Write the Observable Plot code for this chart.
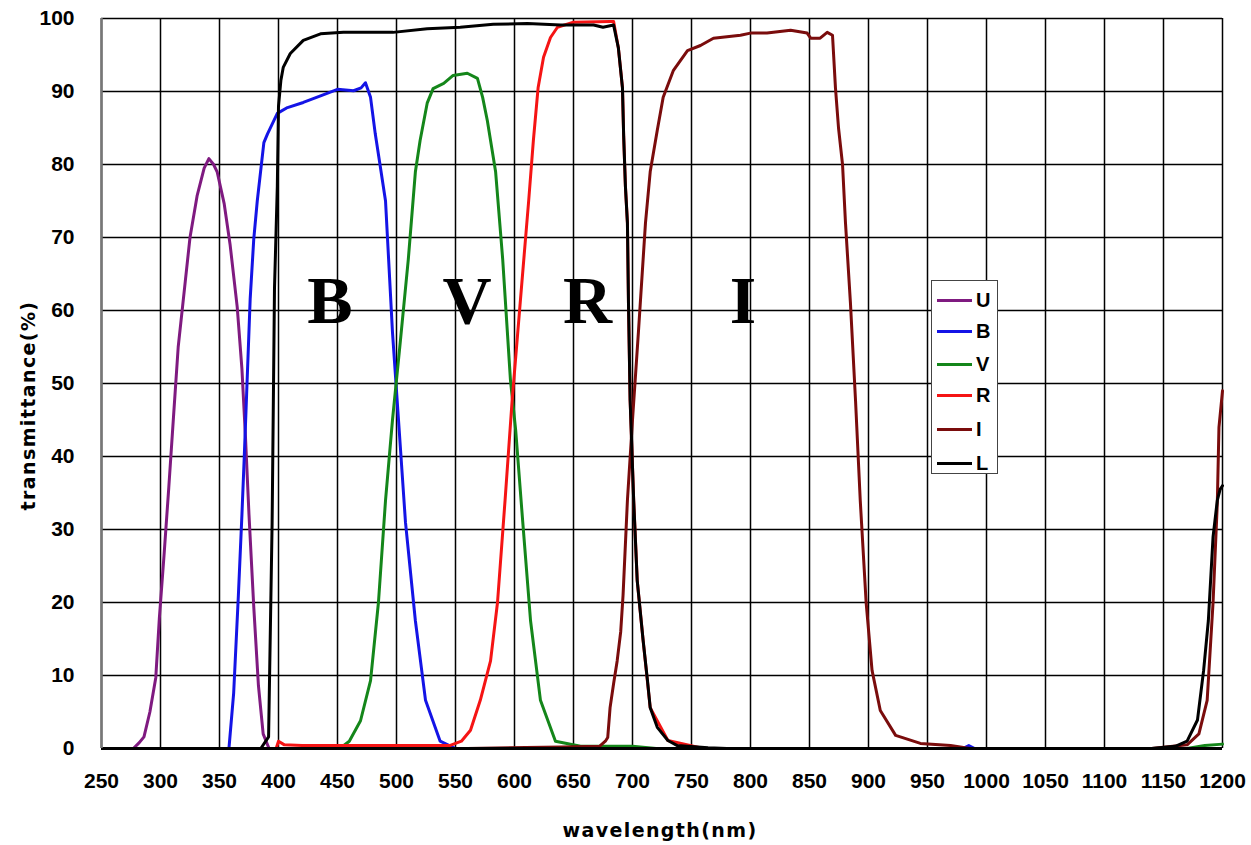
<!DOCTYPE html>
<html><head><meta charset="utf-8">
<script src="https://cdn.jsdelivr.net/npm/d3@7"></script>
<script src="https://cdn.jsdelivr.net/npm/@observablehq/plot@0.6"></script>
<style>
body{margin:0;background:#fff;}
#wrap{position:relative;width:1251px;height:845px;background:#fff;}
#legend{position:absolute;left:931px;top:280px;width:67px;height:194px;border:1.5px solid #444;background:#fff;box-sizing:border-box;}
.item{position:absolute;left:0;width:100%;height:0;}
.swatch{position:absolute;left:5px;width:35px;height:3px;top:-1.5px;}
.lab{position:absolute;left:44px;top:-12px;font:bold 20px "Liberation Sans",Arial,sans-serif;line-height:24px;color:#000;}
</style></head><body><div id="wrap"></div>
<script>
// tick labels
const xTicks = [250,300,350,400,450,500,550,600,650,700,750,800,850,900,950,1000,1050,1100,1150,1200];
const yTicks = [0,10,20,30,40,50,60,70,80,90,100];

// series names and colours
const seriesNames = ["U","B","V","R","I","L"];
const seriesColors = ["#7f1a80","#1414e6","#14861a","#f51414","#7a0c0c","#000000"];

// [wavelength nm, transmittance %]
const U = [[260,0],[277,0],[282,0.8],[286,1.6],[291,5],[296,9.7],[299,17.8],[303,26.5],[307,35.7],[311,45.4],[315,55],[321,64],[325,70],[331,75.7],[337,79.5],[341,80.8],[345,80],[348,79],[354,74.6],[359,69],[365,60.5],[369,52],[372,42.7],[375,32],[379,19.5],[383,8.6],[387,2],[392,0],[400,0]];
const B = [[330,0],[358,0],[362,7.6],[366,21],[369,32],[371,40],[373,48.6],[376,61.6],[379,69.7],[382,75],[387.6,83],[390.7,84.2],[399,87],[407.6,87.8],[421,88.5],[435.6,89.4],[450,90.3],[463.6,90.1],[470,90.5],[473.7,91.2],[478,89.2],[482,84.2],[486,80],[490.7,75],[496.6,57],[501.7,45],[507.6,31],[516,17.5],[524.6,6.6],[537,1],[550,0],[980,0],[985,0.4],[990,0]];
const V = [[390,0],[452,0],[460,1],[469.5,3.8],[478,9.3],[484.7,20],[490.7,34],[496.6,45],[503.4,56],[510,67],[516,79],[520,83.3],[526,88.4],[531,90.4],[540,91.1],[548,92.2],[560,92.5],[568.6,91.8],[573,89.2],[577,86],[584,79],[590,67],[596.6,50.4],[601,43.6],[607,31],[613.6,17.5],[622,6.6],[634.7,1],[656,0.3],[700,0.3],[720,0],[1170,0],[1185,0.4],[1200,0.6]];
const R = [[398,0],[400,1],[405,0.5],[420,0.4],[545,0.4],[555,1],[562.7,2.5],[571,6.6],[579.7,12],[585.6,20],[592,34],[598,47.7],[605,61.4],[612,75],[616,83.3],[620,90.5],[624.6,94.7],[630.5,97.4],[636.4,98.8],[650,99.5],[681,99.6],[684,99.6],[688,96],[691.5,90.5],[692.5,84],[694,77],[695.7,72],[696.6,61],[698,47.7],[701,34],[704,23],[709,14.8],[715,5.6],[730,1.1],[760,0]];
const I = [[560,0],[640,0.2],[672,0.3],[677,1],[679,1.5],[681,5.6],[684,8.9],[687,12],[690,16],[692,21],[695.7,34],[700,45],[705,57],[709,67],[711,72],[715,79],[721,84.7],[726,89.2],[734.7,92.9],[746.6,95.6],[757.6,96.3],[768.6,97.3],[791.5,97.7],[800,98],[814,98],[834,98.4],[848,98],[851,97.3],[859,97.3],[865,98.1],[869.5,97.7],[872,90.5],[874.6,85],[878,80],[880.5,72],[884.7,61],[889,47.7],[893,34],[898,20],[903,10.7],[910,5.2],[923,1.8],[944,0.7],[969.5,0.4],[986,0],[1140,0],[1170,0.5],[1180,2],[1187,6.6],[1192,20],[1195.6,33.6],[1197,44],[1200,49]];
const L = [[260,0],[385,0],[391.6,1.6],[394.6,31],[396.6,63],[399,77],[400,88],[402,91.5],[404,93.3],[410,95.2],[421,97],[435.6,97.9],[455,98.1],[497,98.1],[526,98.6],[554,98.8],[582,99.2],[611,99.3],[639,99.1],[667,99.1],[675,98.8],[684,99.1],[688,96],[691.5,90.5],[692.5,84],[694,77],[695.7,72],[696.6,61],[698,47.7],[701,34],[704,23],[709,14.8],[712.7,9.3],[715,5.6],[721,2.9],[730,1.1],[738,0.4],[764,0.1],[780,0],[1140,0],[1160,0.3],[1170,1],[1178.8,3.9],[1184,10.7],[1188,17.5],[1192,29],[1195.6,34],[1198,35.5],[1200,36]];
const seriesData = [U,B,V,R,I,L];

// band annotations
const bandNames = ["B","V","R","I"];
const bandNm = [443.6,559.7,661.9,793.6];
const bandT = [61.3,61.3,61.3,61.3];

const xTitle = "wavelength(nm)";
const yTitle = "transmittance(%)";

const lines = seriesData.map((s,i) => Plot.line(s, {x: d => d[0], y: d => d[1], stroke: seriesColors[i], strokeWidth: 3}));

const titleStyle = {fontFamily: "'DejaVu Sans', sans-serif", fontWeight: "bold", fontSize: 19, fill: "#000", textAnchor: "middle", lineAnchor: "middle"};

const plot = Plot.plot({
  width: 1251, height: 845,
  marginLeft: 101, marginRight: 29, marginTop: 18, marginBottom: 97,
  style: {background: "#fff", fontFamily: "'Liberation Sans', Arial, sans-serif", fontSize: "21px", fontWeight: "bold", color: "#000", overflow: "visible"},
  x: {domain: [250,1200], ticks: xTicks, tickSize: 0, tickPadding: 25, label: null, tickFormat: d => String(d)},
  y: {domain: [0,100], ticks: yTicks, tickSize: 0, tickPadding: 27, label: null, tickFormat: d => String(d)},
  marks: [
    Plot.ruleX(xTicks, {stroke: "#000", strokeWidth: 1.5}),
    Plot.ruleY(yTicks, {stroke: "#000", strokeWidth: 1.5}),
    ...lines,
    Plot.ruleY([0], {stroke: "#000", strokeWidth: 3}),
    Plot.ruleX([250], {stroke: "#777", strokeWidth: 2.5}),
    Plot.text(bandNames, {x: bandNm, y: bandT, text: d => d, fontFamily: "'Liberation Serif', 'DejaVu Serif', serif", fontWeight: "bold", fontSize: 68, fill: "#000"}),
    Plot.text([xTitle], {frameAnchor: "bottom", dy: 82, dx: -2, text: d => d, ...titleStyle}),
    Plot.text([yTitle], {frameAnchor: "left", rotate: -90, dx: -73, dy: 22, text: d => d, ...titleStyle})
  ]
});

d3.select(plot).selectAll("text").filter(function(){ return this.textContent === xTitle || this.textContent === yTitle; }).attr("letter-spacing", "1.4px");

const wrap = document.getElementById("wrap");
wrap.appendChild(plot);

const legend = d3.select(wrap).append("div").attr("id", "legend");
const rowY = [19, 50, 83, 114, 148, 182];
seriesNames.forEach((n, i) => {
  const it = legend.append("div").attr("class", "item").style("top", rowY[i] + "px");
  it.append("div").attr("class", "swatch").style("background", seriesColors[i]);
  it.append("div").attr("class", "lab").text(n);
});
</script></body></html>
